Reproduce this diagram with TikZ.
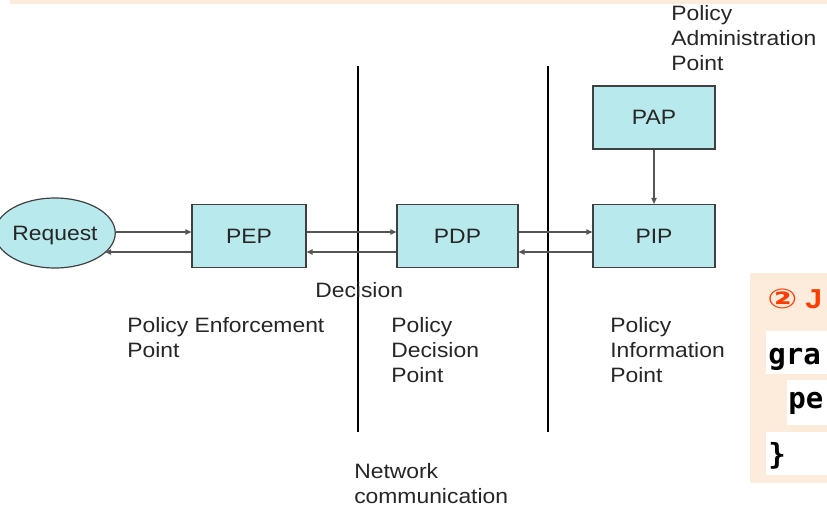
\documentclass[tikz,border=0pt]{standalone}
\usepackage{fontspec}
\setmainfont{Liberation Sans}[FakeStretch=1.1]
\newfontfamily\codefont{DejaVu Sans Mono}
\newfontfamily\symfont{DejaVu Sans}
\usetikzlibrary{shapes.geometric,arrows.meta}
\definecolor{boxfill}{HTML}{B8E9EC}
\definecolor{peach}{HTML}{FDEBDC}
\definecolor{linegray}{HTML}{555555}
\definecolor{markred}{HTML}{FF3C00}
\begin{document}
\begin{tikzpicture}[x=0.75pt,y=-0.75pt,
  every node/.style={font=\fontsize{15.6}{18.4}\selectfont, text=black!85},
  comp/.style={draw=black!75, fill=boxfill, line width=0.9pt, minimum height=47.25pt, inner sep=0},
  lbl/.style={anchor=base west, align=left, inner sep=0},
  arr/.style={draw=linegray, line width=0.9pt, -{Triangle[length=4.5pt,width=4pt]}},
  divider/.style={draw=black, line width=1.1pt},
  codeline/.style={anchor=base west, inner sep=0, font=\codefont\bfseries\fontsize{21.8}{24}\selectfont, text=black}]
\useasboundingbox (0,0) rectangle (827,510);
\fill[peach] (10,0) rectangle (827,4);
% components
\node[ellipse, draw=black!75, fill=boxfill, line width=0.9pt, minimum width=82.5pt, minimum height=52.5pt, inner sep=0, text depth=0pt] (req) at (55,233) {Request};
\node[comp, minimum width=85.5pt] (pep) at (249,236) {PEP};
\node[comp, minimum width=90.75pt] (pdp) at (457.5,236) {PDP};
\node[comp, minimum width=91.5pt] (pip) at (654,236) {PIP};
\node[comp, minimum width=91.5pt] (pap) at (654,117.5) {PAP};
% levels
\coordinate (up) at (0,232);
\coordinate (lo) at (0,252);
% dividers
\coordinate (d1t) at (358,66); \coordinate (d1b) at (358,432);
\coordinate (d2t) at (548,66); \coordinate (d2b) at (548,432);
\draw[divider] (d1t) -- (d1b);
\draw[divider] (d2t) -- (d2b);
% connectors
\draw[arr] (req.east |- up) -- (pep.west |- up);
\draw[arr] (pep.west |- lo) -- (req.-22 |- lo);
\draw[arr] (pep.east |- up) -- (pdp.west |- up);
\draw[arr] (pdp.west |- lo) -- (pep.east |- lo);
\draw[arr] (pdp.east |- up) -- (pip.west |- up);
\draw[arr] (pip.west |- lo) -- (pdp.east |- lo);
\draw[arr] (pap.south) -- (pip.north);
% labels (anchor = baseline of the last line)
\node[lbl] (ladm) at (671,70) {Policy\\Administration\\Point};
\node[lbl] (ldec) at (315,297) {Decision};
\node[lbl] (lpep) at (127,357) {Policy Enforcement\\Point};
\node[lbl] (lpdp) at (391,382) {Policy\\Decision\\Point};
\node[lbl] (lpip) at (610,382) {Policy\\Information\\Point};
\node[lbl] (lnet) at (354,503) {Network\\communication};
% right panel
\fill[peach] (750,273) rectangle (827,483);
\fill[white] (766,331) rectangle (827,374);
\fill[white] (787,380) rectangle (827,425);
\fill[white] (766,432) rectangle (827,475);
\node[anchor=base west, inner sep=0, text=markred, font=\bfseries\fontsize{20.5}{23}\selectfont] (step2) at (767,308) {\scalebox{1.3}[1]{\symfont ②}\hspace{6pt}J};
\node[codeline] (c1) at (768,364) {gra};
\node[codeline] (c2) at (788,408) {pe};
\node[codeline] (c3) at (768,464) {\}};
\end{tikzpicture}
\end{document}
